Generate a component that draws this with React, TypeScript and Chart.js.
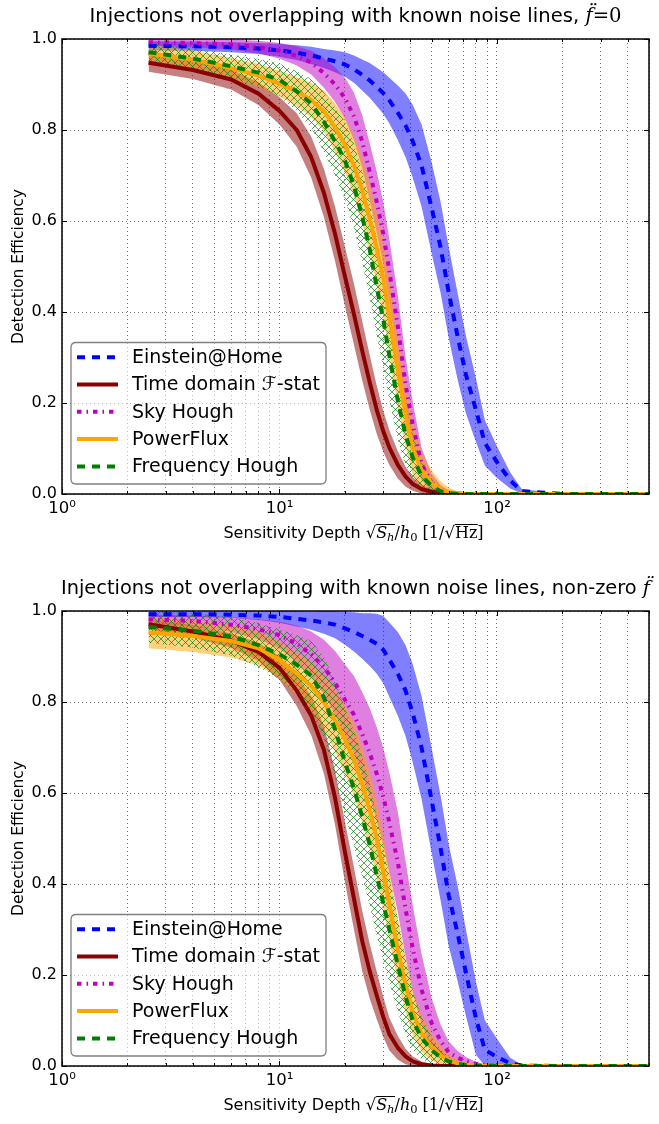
import React, { useEffect, useRef } from 'react';
import { Chart, registerables } from 'chart.js';

Chart.register(...registerables);
Chart.defaults.font.family = '"DejaVu Sans", sans-serif';
Chart.defaults.color = '#000';

// ---------- data ----------
const X = [2.5, 4, 6, 8, 10, 12, 14, 16, 18, 20, 22, 24, 26, 28, 30, 32, 35, 38, 41, 45, 50, 55, 60, 66, 72, 80, 88, 100, 115, 130, 200, 500];
const X_TICKS = [1, 2, 3, 4, 5, 6, 7, 8, 9, 10, 20, 30, 40, 50, 60, 70, 80, 90, 100, 200, 300, 400, 500];
const Y_TICKS = [0, 0.2, 0.4, 0.6, 0.8, 1.0];

const SERIES_LABELS = ['Einstein@Home', 'Time domain \u2131-stat', 'Sky Hough', 'PowerFlux', 'Frequency Hough'];

// panel 1: f-double-dot = 0
const F0_EAH = [0.985, 0.984, 0.982, 0.979, 0.975, 0.970, 0.964, 0.957, 0.951, 0.944, 0.934, 0.921, 0.909, 0.895, 0.881, 0.865, 0.838, 0.810, 0.775, 0.722, 0.630, 0.543, 0.443, 0.345, 0.262, 0.185, 0.112, 0.070, 0.030, 0.006, 0, 0];
const F0_EAH_ERR = [0.01, 0.01, 0.011, 0.012, 0.014, 0.016, 0.019, 0.021, 0.024, 0.027, 0.03, 0.034, 0.038, 0.042, 0.046, 0.05, 0.06, 0.07, 0.08, 0.09, 0.1, 0.1, 0.1, 0.095, 0.085, 0.07, 0.05, 0.035, 0.018, 0.005, 0, 0];
const F0_TD = [0.948, 0.932, 0.911, 0.880, 0.842, 0.800, 0.740, 0.662, 0.572, 0.478, 0.395, 0.315, 0.245, 0.185, 0.138, 0.102, 0.064, 0.038, 0.022, 0.011, 0.005, 0.002, 0, 0, 0, 0, 0, 0, 0, 0, 0, 0];
const F0_TD_ERR = [0.02, 0.02, 0.022, 0.025, 0.03, 0.037, 0.045, 0.053, 0.06, 0.065, 0.067, 0.065, 0.06, 0.053, 0.045, 0.038, 0.03, 0.022, 0.015, 0.01, 0.006, 0.003, 0.001, 0, 0, 0, 0, 0, 0, 0, 0, 0];
const F0_SKY = [0.993, 0.991, 0.988, 0.982, 0.974, 0.963, 0.948, 0.925, 0.900, 0.870, 0.830, 0.775, 0.708, 0.642, 0.572, 0.490, 0.368, 0.240, 0.152, 0.066, 0.025, 0.010, 0.003, 0.001, 0, 0, 0, 0, 0, 0, 0, 0];
const F0_SKY_ERR = [0.008, 0.009, 0.011, 0.014, 0.017, 0.021, 0.026, 0.032, 0.038, 0.045, 0.052, 0.058, 0.063, 0.067, 0.07, 0.07, 0.068, 0.06, 0.05, 0.035, 0.02, 0.01, 0.004, 0.001, 0, 0, 0, 0, 0, 0, 0, 0];
const F0_PF = [0.968, 0.955, 0.936, 0.920, 0.902, 0.884, 0.866, 0.842, 0.806, 0.767, 0.722, 0.668, 0.605, 0.540, 0.475, 0.390, 0.272, 0.175, 0.100, 0.052, 0.024, 0.010, 0.004, 0.001, 0, 0, 0, 0, 0, 0, 0, 0];
const F0_PF_ERR = [0.02, 0.02, 0.022, 0.025, 0.028, 0.032, 0.038, 0.045, 0.053, 0.06, 0.067, 0.073, 0.078, 0.082, 0.085, 0.085, 0.08, 0.07, 0.058, 0.042, 0.028, 0.018, 0.01, 0.005, 0.002, 0, 0, 0, 0, 0, 0, 0];
const F0_FH = [0.971, 0.957, 0.940, 0.926, 0.910, 0.885, 0.858, 0.818, 0.775, 0.733, 0.677, 0.610, 0.537, 0.455, 0.383, 0.304, 0.205, 0.130, 0.080, 0.040, 0.018, 0.006, 0.002, 0, 0, 0, 0, 0, 0, 0, 0, 0];
const F0_FH_ERR = [0.02, 0.022, 0.026, 0.03, 0.036, 0.044, 0.054, 0.065, 0.075, 0.085, 0.093, 0.1, 0.105, 0.107, 0.105, 0.098, 0.085, 0.068, 0.05, 0.032, 0.016, 0.008, 0.003, 0.001, 0, 0, 0, 0, 0, 0, 0, 0];

// panel 2: non-zero f-double-dot
const NZ_EAH = [0.993, 0.993, 0.992, 0.990, 0.987, 0.983, 0.979, 0.975, 0.970, 0.962, 0.954, 0.945, 0.937, 0.928, 0.915, 0.893, 0.862, 0.825, 0.775, 0.700, 0.585, 0.480, 0.375, 0.290, 0.205, 0.105, 0.035, 0.020, 0.006, 0.001, 0, 0];
const NZ_EAH_ERR = [0.006, 0.006, 0.007, 0.01, 0.013, 0.017, 0.02, 0.025, 0.03, 0.036, 0.043, 0.05, 0.058, 0.066, 0.074, 0.082, 0.092, 0.1, 0.108, 0.113, 0.115, 0.115, 0.112, 0.105, 0.095, 0.08, 0.065, 0.04, 0.012, 0.002, 0, 0];
const NZ_TD = [0.971, 0.955, 0.935, 0.910, 0.875, 0.825, 0.770, 0.695, 0.590, 0.470, 0.368, 0.275, 0.208, 0.155, 0.108, 0.070, 0.040, 0.021, 0.010, 0.004, 0.001, 0, 0, 0, 0, 0, 0, 0, 0, 0, 0, 0];
const NZ_TD_ERR = [0.012, 0.014, 0.016, 0.02, 0.026, 0.034, 0.043, 0.052, 0.06, 0.066, 0.068, 0.066, 0.06, 0.052, 0.044, 0.036, 0.026, 0.017, 0.011, 0.006, 0.003, 0.001, 0, 0, 0, 0, 0, 0, 0, 0, 0, 0];
const NZ_SKY = [0.982, 0.978, 0.970, 0.960, 0.947, 0.928, 0.905, 0.877, 0.842, 0.805, 0.772, 0.730, 0.688, 0.642, 0.592, 0.535, 0.448, 0.345, 0.258, 0.168, 0.095, 0.055, 0.030, 0.018, 0.011, 0.005, 0.002, 0, 0, 0, 0, 0];
const NZ_SKY_ERR = [0.01, 0.012, 0.016, 0.022, 0.03, 0.04, 0.05, 0.06, 0.07, 0.078, 0.085, 0.092, 0.098, 0.103, 0.107, 0.11, 0.11, 0.105, 0.095, 0.078, 0.055, 0.036, 0.024, 0.015, 0.009, 0.004, 0.002, 0, 0, 0, 0, 0];
const NZ_PF = [0.953, 0.945, 0.934, 0.918, 0.893, 0.862, 0.835, 0.800, 0.760, 0.718, 0.674, 0.620, 0.563, 0.500, 0.428, 0.355, 0.255, 0.178, 0.118, 0.072, 0.042, 0.024, 0.012, 0.006, 0.003, 0.001, 0, 0, 0, 0, 0, 0];
const NZ_PF_ERR = [0.035, 0.035, 0.036, 0.038, 0.04, 0.046, 0.053, 0.06, 0.068, 0.075, 0.08, 0.083, 0.085, 0.085, 0.083, 0.078, 0.07, 0.06, 0.05, 0.04, 0.03, 0.022, 0.015, 0.009, 0.005, 0.002, 0, 0, 0, 0, 0, 0];
const NZ_FH = [0.965, 0.957, 0.944, 0.925, 0.905, 0.882, 0.858, 0.810, 0.740, 0.668, 0.610, 0.548, 0.486, 0.418, 0.358, 0.300, 0.222, 0.152, 0.100, 0.062, 0.035, 0.019, 0.010, 0.005, 0.002, 0.001, 0, 0, 0, 0, 0, 0];
const NZ_FH_ERR = [0.035, 0.038, 0.042, 0.048, 0.055, 0.065, 0.076, 0.09, 0.105, 0.118, 0.127, 0.132, 0.134, 0.132, 0.126, 0.117, 0.102, 0.084, 0.066, 0.047, 0.03, 0.018, 0.011, 0.005, 0.002, 0.001, 0, 0, 0, 0, 0, 0];

// ---------- styles ----------
const LINE_COLORS = ['#0000ff', '#8b0000', '#bf00bf', '#ffa500', '#008000'];
const BAND_COLORS = ['rgba(0,0,255,0.5)', 'rgba(139,0,0,0.5)', 'rgba(191,0,191,0.5)', 'rgba(255,165,0,0.5)', 'hatch'];
const LINE_DASHES: number[][] = [[8, 7], [], [4.5, 5, 1.5, 5], [], [8, 7]];

type Seg = { t: string; f: string; dy?: number; bar?: boolean };

const SANS = '"DejaVu Sans", sans-serif';
const SERIF = '"DejaVu Serif", serif';

const TITLE_TOP: Seg[] = [
  { t: 'Injections not overlapping with known noise lines, ', f: `19.6px ${SANS}` },
  { t: 'f\u0308', f: `italic 19.6px ${SERIF}` },
  { t: '=0', f: `19.6px ${SERIF}` },
];
const TITLE_BOTTOM: Seg[] = [
  { t: 'Injections not overlapping with known noise lines, non-zero ', f: `19.4px ${SANS}` },
  { t: 'f\u0308', f: `italic 19.4px ${SERIF}` },
];
const XLABEL: Seg[] = [
  { t: 'Sensitivity Depth ', f: `16px ${SANS}` },
  { t: '\u221a', f: `16.5px ${SERIF}` },
  { t: 'S', f: `italic 16px ${SERIF}`, bar: true },
  { t: 'h', f: `italic 11.5px ${SERIF}`, dy: 3, bar: true },
  { t: '/', f: `16px ${SERIF}` },
  { t: 'h', f: `italic 16px ${SERIF}` },
  { t: '0', f: `11.5px ${SERIF}`, dy: 3 },
  { t: ' [1/', f: `16px ${SERIF}` },
  { t: '\u221a', f: `16.5px ${SERIF}` },
  { t: 'Hz', f: `16px ${SERIF}`, bar: true },
  { t: ']', f: `16px ${SERIF}` },
];

type PanelCfg = { title: Seg[]; means: number[][]; errs: number[][]; padTop: number; axisH: number };

const PANELS: PanelCfg[] = [
  {
    title: TITLE_TOP,
    means: [F0_EAH, F0_TD, F0_SKY, F0_PF, F0_FH],
    errs: [F0_EAH_ERR, F0_TD_ERR, F0_SKY_ERR, F0_PF_ERR, F0_FH_ERR],
    padTop: 39,
    axisH: 68,
  },
  {
    title: TITLE_BOTTOM,
    means: [NZ_EAH, NZ_TD, NZ_SKY, NZ_PF, NZ_FH],
    errs: [NZ_EAH_ERR, NZ_TD_ERR, NZ_SKY_ERR, NZ_PF_ERR, NZ_FH_ERR],
    padTop: 49,
    axisH: 58,
  },
];

const SUP = ['\u2070', '\u00b9', '\u00b2', '\u00b3'];
function isPow10(v: number) {
  const e = Math.log10(v);
  return Math.abs(e - Math.round(e)) < 1e-9;
}

function makeHatch(): CanvasPattern | string {
  const s = 7;
  const c = document.createElement('canvas');
  c.width = s;
  c.height = s;
  const g = c.getContext('2d');
  if (!g) return 'rgba(0,128,0,0.3)';
  g.strokeStyle = 'rgba(0,128,0,0.85)';
  g.lineWidth = 0.8;
  g.beginPath();
  g.moveTo(-1, -1);
  g.lineTo(s + 1, s + 1);
  g.moveTo(s + 1, -1);
  g.lineTo(-1, s + 1);
  g.stroke();
  return g.createPattern(c, 'repeat') || 'rgba(0,128,0,0.3)';
}

function drawRich(ctx: CanvasRenderingContext2D, segs: Seg[], cx: number, baseline: number) {
  ctx.save();
  ctx.textAlign = 'left';
  ctx.textBaseline = 'alphabetic';
  ctx.fillStyle = '#000';
  const widths = segs.map((s) => {
    ctx.font = s.f;
    return ctx.measureText(s.t).width;
  });
  const total = widths.reduce((a, b) => a + b, 0);
  let x = cx - total / 2;
  segs.forEach((s, i) => {
    ctx.font = s.f;
    ctx.fillText(s.t, x, baseline + (s.dy || 0));
    if (s.bar) ctx.fillRect(x, baseline - 14, widths[i] + 0.5, 1);
    x += widths[i];
  });
  ctx.restore();
}

function drawLegend(chart: any) {
  const { ctx, chartArea: a } = chart;
  const bx = a.left + 9;
  const bw = 255;
  const bh = 141.5;
  const by = a.bottom - 10 - bh;
  const r = 5;
  ctx.save();
  ctx.beginPath();
  ctx.moveTo(bx + r, by);
  ctx.lineTo(bx + bw - r, by);
  ctx.quadraticCurveTo(bx + bw, by, bx + bw, by + r);
  ctx.lineTo(bx + bw, by + bh - r);
  ctx.quadraticCurveTo(bx + bw, by + bh, bx + bw - r, by + bh);
  ctx.lineTo(bx + r, by + bh);
  ctx.quadraticCurveTo(bx, by + bh, bx, by + bh - r);
  ctx.lineTo(bx, by + r);
  ctx.quadraticCurveTo(bx, by, bx + r, by);
  ctx.closePath();
  ctx.fillStyle = 'rgba(255,255,255,0.55)';
  ctx.fill();
  ctx.strokeStyle = '#808080';
  ctx.lineWidth = 1.3;
  ctx.stroke();
  SERIES_LABELS.forEach((lab, i) => {
    const y = by + 14.7 + 27.3 * i;
    ctx.beginPath();
    ctx.setLineDash(LINE_DASHES[i]);
    ctx.strokeStyle = LINE_COLORS[i];
    ctx.lineWidth = 4;
    ctx.lineCap = 'butt';
    ctx.moveTo(bx + 6, y);
    ctx.lineTo(bx + 47, y);
    ctx.stroke();
    ctx.setLineDash([]);
    ctx.fillStyle = '#000';
    ctx.font = `19px ${SANS}`;
    ctx.textBaseline = 'middle';
    ctx.textAlign = 'left';
    ctx.fillText(lab, bx + 61, y + 1);
  });
  ctx.restore();
}

function decoPlugin(title: Seg[]) {
  return {
    id: 'deco',
    afterDatasetsDraw(chart: any) {
      drawLegend(chart);
    },
    afterDraw(chart: any) {
      const { ctx, chartArea: a, scales } = chart;
      ctx.save();
      ctx.strokeStyle = '#000';
      ctx.lineWidth = 1;
      ctx.beginPath();
      X_TICKS.forEach((v) => {
        const px = Math.round(scales.x.getPixelForValue(v)) + 0.5;
        const len = isPow10(v) ? 5 : 3;
        ctx.moveTo(px, a.bottom);
        ctx.lineTo(px, a.bottom - len);
        ctx.moveTo(px, a.top);
        ctx.lineTo(px, a.top + len);
      });
      Y_TICKS.forEach((v) => {
        const py = Math.round(scales.y.getPixelForValue(v)) + 0.5;
        ctx.moveTo(a.left, py);
        ctx.lineTo(a.left + 5, py);
        ctx.moveTo(a.right, py);
        ctx.lineTo(a.right - 5, py);
      });
      ctx.stroke();
      ctx.lineWidth = 1.5;
      ctx.strokeRect(a.left, a.top, a.right - a.left, a.bottom - a.top);
      ctx.restore();
      drawRich(ctx, title, (a.left + a.right) / 2, a.top - 17);
      drawRich(ctx, XLABEL, (a.left + a.right) / 2 - 2, a.bottom + 44);
    },
  };
}

function Panel({ cfg }: { cfg: PanelCfg }) {
  const ref = useRef<HTMLCanvasElement | null>(null);
  useEffect(() => {
    const canvas = ref.current;
    if (!canvas) return;
    const hatch = makeHatch();
    const datasets: any[] = [];
    for (let i = 4; i >= 0; i--) {
      datasets.push({
        label: SERIES_LABELS[i],
        data: X.map((x, k) => ({ x, y: cfg.means[i][k] })),
        borderColor: LINE_COLORS[i],
        borderWidth: 4,
        borderDash: LINE_DASHES[i],
        pointRadius: 0,
        fill: false,
        clip: 0,
      });
    }
    for (let i = 4; i >= 0; i--) {
      datasets.push({
        label: '',
        data: X.map((x, k) => ({ x, y: Math.min(1, cfg.means[i][k] + cfg.errs[i][k]) })),
        borderWidth: 0,
        borderColor: 'rgba(0,0,0,0)',
        backgroundColor: i === 4 ? hatch : BAND_COLORS[i],
        pointRadius: 0,
        fill: '+1',
        clip: 0,
      });
      datasets.push({
        label: '',
        data: X.map((x, k) => ({ x, y: Math.max(0, cfg.means[i][k] - cfg.errs[i][k]) })),
        borderWidth: 0,
        borderColor: 'rgba(0,0,0,0)',
        pointRadius: 0,
        fill: false,
        clip: 0,
      });
    }
    const gridOpts = { color: 'rgba(0,0,0,0.55)', lineWidth: 1, drawTicks: false };
    const chart = new Chart(canvas, {
      type: 'line',
      data: { datasets },
      options: {
        responsive: false,
        animation: false,
        devicePixelRatio: 1,
        layout: { padding: { top: cfg.padTop, right: 10, left: 0, bottom: 0 } },
        elements: { line: { tension: 0, borderCapStyle: 'butt', borderJoinStyle: 'round' }, point: { radius: 0 } },
        plugins: {
          legend: { display: false },
          title: { display: false },
          tooltip: { enabled: false },
          filler: { drawTime: 'beforeDatasetsDraw', propagate: false },
        },
        scales: {
          x: {
            type: 'logarithmic',
            min: 1,
            max: 500,
            afterBuildTicks: (s: any) => {
              s.ticks = X_TICKS.map((v) => ({ value: v, major: isPow10(v) }));
            },
            afterFit: (s: any) => {
              s.height = cfg.axisH;
            },
            grid: gridOpts,
            border: { display: false, dash: [1, 3] },
            ticks: {
              autoSkip: false,
              maxRotation: 0,
              minRotation: 0,
              padding: 5,
              color: '#000',
              font: { size: 16.5, family: SANS },
              callback: (v: any) => (isPow10(Number(v)) ? '10' + SUP[Math.round(Math.log10(Number(v)))] : ''),
            },
          },
          y: {
            type: 'linear',
            min: 0,
            max: 1,
            afterBuildTicks: (s: any) => {
              s.ticks = Y_TICKS.map((v) => ({ value: v }));
            },
            afterFit: (s: any) => {
              s.width = 62;
            },
            grid: gridOpts,
            border: { display: false, dash: [1, 3] },
            ticks: {
              padding: 5,
              color: '#000',
              font: { size: 16, family: SANS },
              callback: (v: any) => Number(v).toFixed(1),
            },
            title: {
              display: true,
              text: 'Detection Efficiency',
              color: '#000',
              font: { size: 15.5, family: SANS },
              padding: { top: 10, bottom: 0 },
            },
          },
        },
      } as any,
      plugins: [decoPlugin(cfg.title)],
    });
    return () => chart.destroy();
  }, [cfg]);
  return <canvas ref={ref} width={659} height={562} style={{ display: 'block', width: 659, height: 562 }} />;
}

export default function App() {
  return (
    <div style={{ position: 'absolute', left: 0, top: 0, width: 659, height: 1124, background: '#fff' }}>
      <Panel cfg={PANELS[0]} />
      <Panel cfg={PANELS[1]} />
    </div>
  );
}
